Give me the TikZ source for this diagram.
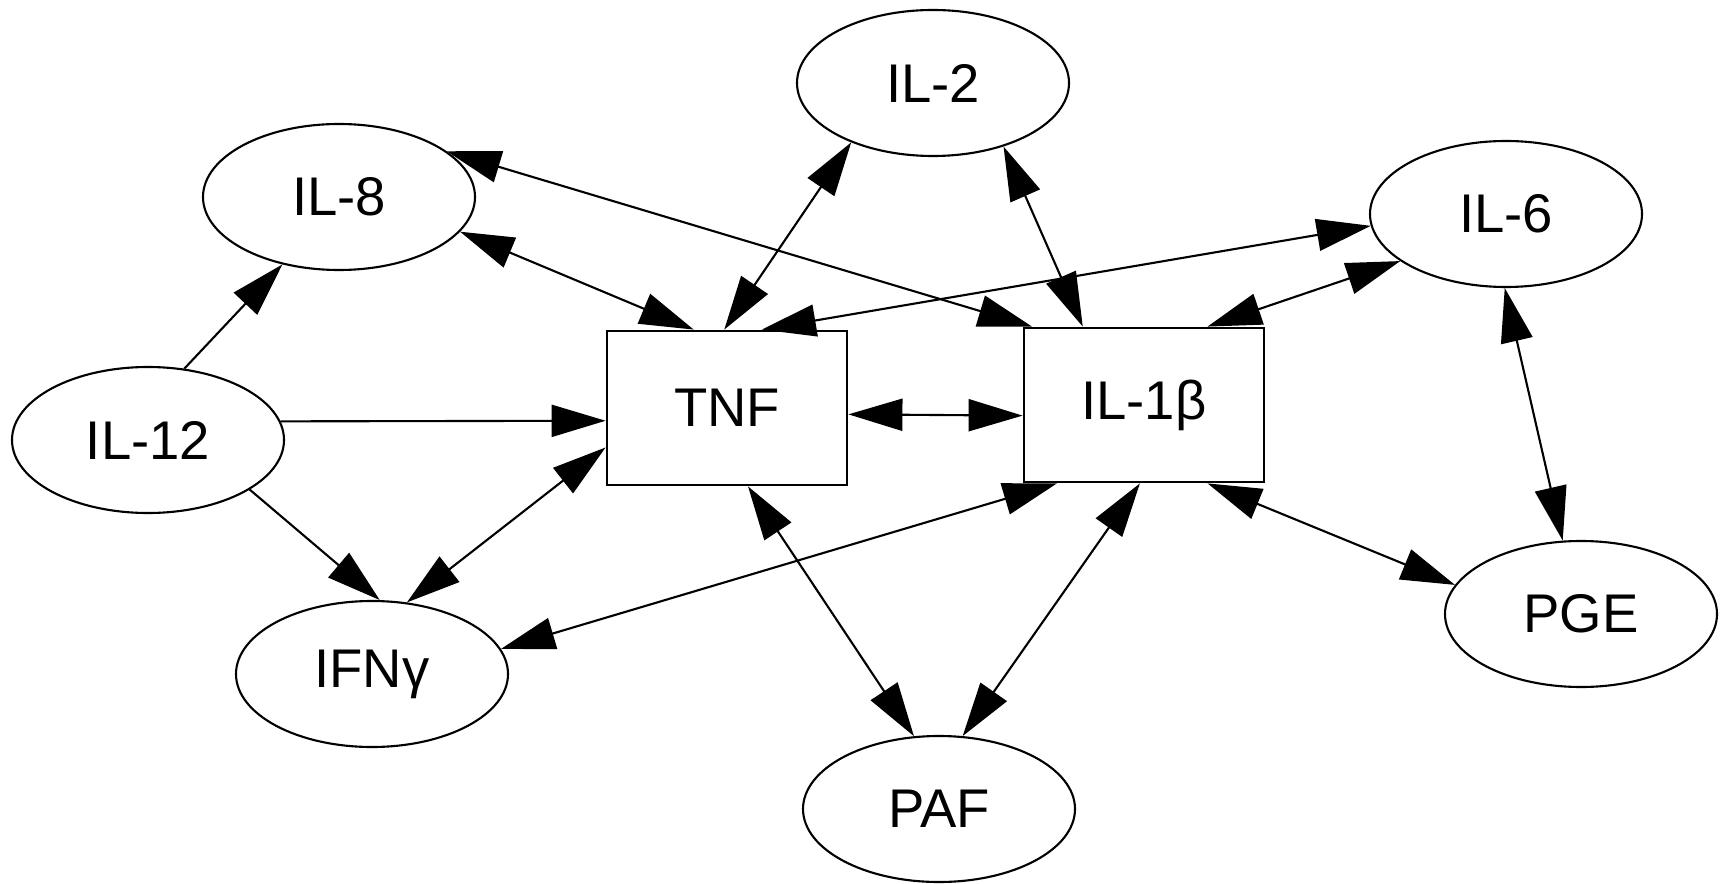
\documentclass[tikz,border=0pt]{standalone}
\usepackage{fontspec}
\setmainfont{Liberation Sans}
\usetikzlibrary{shapes,arrows.meta,positioning}

\begin{document}
\begin{tikzpicture}[
	cyto/.style={draw, ellipse, line width=0.6pt, minimum width=2.72cm, minimum height=1.46cm, inner sep=0pt},
	hub/.style={draw, rectangle, line width=0.8pt, minimum width=2.4cm, minimum height=1.54cm, inner sep=0pt},
	onew/.style={-{Triangle[length=5.4mm,width=3.2mm]}, line width=0.6pt},
	twow/.style={{Triangle[length=5.4mm,width=3.2mm]}-{Triangle[length=5.4mm,width=3.2mm]}, line width=0.6pt},
	every node/.style={font=\fontsize{15.5}{18}\selectfont}
]
	\useasboundingbox (0,0) rectangle (17.27,8.83);
	
	\node[cyto] (il2) at (9.33,8.00) {IL-2};
	\node[cyto] (il8) at (3.39,6.86) {IL-8};
	\node[cyto] (il6) at (15.06,6.69) {IL-6};
	\node[cyto] (il12) at (1.48,4.43) {IL-12};
	\node[cyto] (ifng) at (3.72,2.09) {IFNγ};
	\node[cyto] (paf) at (9.39,0.74) {PAF};
	\node[cyto] (pge) at (15.81,2.69) {PGE};
	
	\node[hub] (tnf) at (7.27,4.75) {TNF};
	\node[hub] (il1b) at (11.44,4.78) {IL-1β};
	
	\draw[onew] (il12.63) -- (il8.230);
	\draw[onew] (il12.8) -- (tnf.186);
	\draw[onew] (il12.334) -- (ifng.84);
	
	\draw[twow] (ifng.64) -- (tnf.198);
	\draw[twow] (il8.344) -- (tnf.113);
	\draw[twow] (il8.23) -- (il1b.145);
	\draw[twow] (il2.216) -- (tnf.92);
	\draw[twow] (il2.318) -- (il1b.128);
	\draw[twow] (il6.185) -- (tnf.66);
	\draw[twow] (il6.204) -- (il1b.51);
	\draw[twow] (il6.269) -- (pge.104);
	\draw[twow] (tnf.357) -- (il1b.185);
	\draw[twow] (il1b.222) -- (ifng.11);
	\draw[twow] (tnf.285) -- (paf.109);
	\draw[twow] (il1b.267) -- (paf.72);
	\draw[twow] (il1b.309) -- (pge.167);
\end{tikzpicture}
\end{document}
